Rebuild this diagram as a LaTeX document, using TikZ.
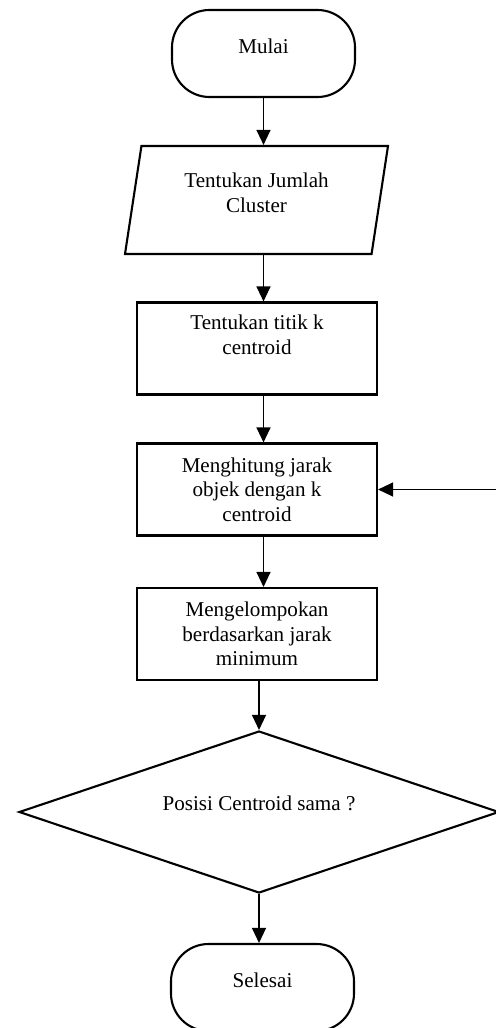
\documentclass[tikz,border=0pt]{standalone}
\usepackage{fontspec}
\setmainfont{Liberation Serif}
\usepackage{tikz}
\usetikzlibrary{positioning, arrows.meta, shapes.geometric, calc}

\begin{document}
\begin{tikzpicture}[
    font=\fontsize{12}{14}\selectfont,
    % ---- Terminal (mulai / selesai) ----
    terminal/.style={
        draw,
        line width=1.2pt,
        rounded corners=0.75cm,
        minimum width=3.66cm,
        minimum height=1.74cm,
        text depth=0.3cm
    },
    % ---- Input (jajar genjang) ----
    io/.style={
        trapezium,
        trapezium left angle=76,
        trapezium right angle=104,
        trapezium stretches body=true,
        draw,
        line width=1.2pt,
        align=center,
        minimum width=5.26cm,
        minimum height=2.16cm,
        text depth=0.3cm
    },
    % ---- Proses ----
    process/.style={
        rectangle,
        draw,
        line width=1.2pt,
        align=center,
        minimum width=4.8cm,
        minimum height=1.84cm,
        inner sep=3pt
    },
    % ---- Keputusan ----
    decision/.style={
        diamond,
        aspect=3,
        draw,
        line width=1.2pt,
        inner sep=1pt,
        minimum width=9.6cm,
        minimum height=3.24cm,
        text depth=0.35cm
    },
    % ---- Garis alir ----
    flow/.style={line width=0.7pt, -{Triangle[length=0.3cm, width=0.28cm]}}
]

\useasboundingbox (0,0) rectangle (9.9,-20.56);

% ---------- NODE ----------
\node[terminal] (Mulai) at (5.27, -1.07) {Mulai};

\node[io] (Jumlah) at (5.13, -4.0) {Tentukan Jumlah\\Cluster};

\node[process, text depth=0.55cm] (Titik) at (5.14, -6.97) {Tentukan titik k\\centroid};

\node[process] (Menghitung) at (5.14, -9.79) {Menghitung jarak\\objek dengan k\\centroid};

\node[process] (Mengelompokan) at (5.14, -12.68) {Mengelompokan\\berdasarkan jarak\\minimum};

\node[decision] (Posisi) at (5.18, -16.24) {Posisi Centroid sama ?};

\node[terminal] (Selesai) at (5.25, -19.75) {Selesai};

% ---------- ALUR ----------
\draw[flow] (Mulai.south) -- (Mulai.south |- Jumlah.north);
\draw[flow] (Jumlah.south -| Mulai) -- (Titik.north -| Mulai);
\draw[flow] (Titik.south -| Mulai) -- (Menghitung.north -| Mulai);
\draw[flow] (Menghitung.south -| Mulai) -- (Mengelompokan.north -| Mulai);
\draw[flow] (Mengelompokan.south -| Posisi) -- (Posisi.north);
\draw[flow] (Posisi.south) -- (Posisi.south |- Selesai.north);

% kembali ke perhitungan jarak
\draw[flow] (Posisi.east |- Menghitung.east) -- (Menghitung.east);

\end{tikzpicture}
\end{document}
